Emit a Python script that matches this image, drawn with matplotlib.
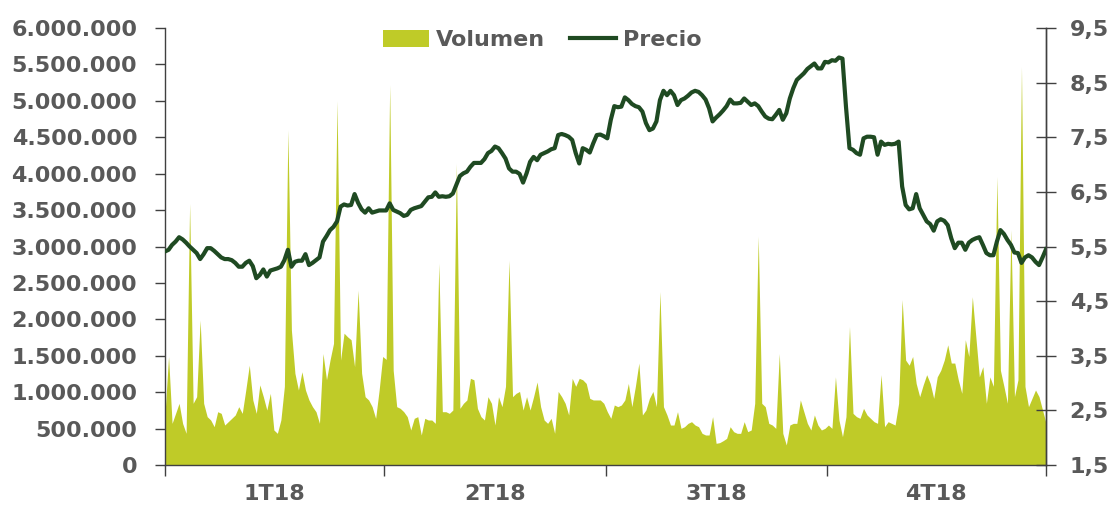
import matplotlib
matplotlib.use("Agg")
import matplotlib.pyplot as plt
import matplotlib.ticker as mticker
from matplotlib.patches import Patch
from matplotlib.lines import Line2D
import numpy as np

# volumen diario (miles de acciones), 2018, una sesion por valor
volumen_q1 = [709, 1490, 572, 709, 847, 572, 435, 3590, 847, 938, 1990, 847, 664, 618, 526, 732,
              709, 549, 595, 641, 687, 801, 709, 1030, 1370, 893, 709, 1100, 938, 755, 984, 481,
              435, 618, 1080, 4600, 1850, 1260, 1030, 1280, 1030, 893, 801, 732, 572, 1530, 1170,
              1440, 1670, 5000, 1440, 1810, 1760, 1720, 1350, 2400, 1260, 938, 893, 801, 641, 1030, 1490]
volumen_q2 = [1450, 5220, 1300, 801, 778, 732, 664, 481, 641, 664, 412, 641, 618, 618, 572, 2770,
              732, 732, 709, 755, 4140, 778, 847, 893, 1190, 1170, 778, 664, 618, 938, 847, 549,
              938, 801, 1080, 2810, 938, 984, 1010, 755, 938, 755, 938, 1140, 801, 618, 572, 641,
              435, 1010, 938, 847, 687, 1190, 1080, 1190, 1170, 1120, 915, 893, 893, 893, 847]
volumen_q3 = [732, 641, 824, 801, 824, 893, 1120, 801, 1080, 1400, 687, 755, 915, 1010, 801, 2380,
              801, 687, 549, 549, 732, 503, 526, 572, 595, 549, 526, 435, 412, 412, 664, 298,
              307, 334, 366, 526, 458, 435, 435, 595, 458, 481, 847, 3140, 847, 801, 572, 549,
              503, 1530, 435, 275, 549, 572, 572, 893, 732, 572, 481, 687, 549, 481, 503]
volumen_q4 = [549, 503, 1210, 618, 389, 664, 1900, 709, 664, 641, 778, 687, 641, 595, 572, 1240,
              526, 595, 572, 549, 847, 2270, 1440, 1370, 1490, 1120, 938, 1100, 1240, 1120, 915, 1210,
              1300, 1440, 1650, 1400, 1400, 1170, 984, 1720, 1490, 2310, 1760, 1210, 1350, 847, 1210, 1080,
              3960, 1300, 1080, 847, 3230, 938, 1170, 5470, 1080, 801, 915, 1030, 938, 755, 572]

# precio de cierre (euros)
precio_q1 = [5.41, 5.44, 5.53, 5.59, 5.67, 5.63, 5.57, 5.50, 5.44, 5.38, 5.27, 5.36, 5.47, 5.47, 5.42, 5.36,
             5.30, 5.27, 5.27, 5.25, 5.20, 5.13, 5.13, 5.20, 5.24, 5.14, 4.92, 4.98, 5.08, 4.95, 5.06, 5.08,
             5.10, 5.13, 5.25, 5.44, 5.13, 5.22, 5.24, 5.24, 5.36, 5.16, 5.20, 5.25, 5.30, 5.59, 5.69,
             5.80, 5.86, 5.96, 6.23, 6.27, 6.25, 6.26, 6.46, 6.30, 6.18, 6.12, 6.20, 6.12, 6.14, 6.16, 6.16]
precio_q2 = [6.16, 6.29, 6.17, 6.14, 6.11, 6.06, 6.08, 6.17, 6.20, 6.22, 6.24, 6.32, 6.40, 6.41, 6.49, 6.41,
             6.42, 6.41, 6.42, 6.47, 6.63, 6.79, 6.84, 6.87, 6.96, 7.03, 7.03, 7.03, 7.10, 7.21, 7.25, 7.33,
             7.30, 7.21, 7.11, 6.93, 6.87, 6.87, 6.83, 6.67, 6.84, 7.05, 7.14, 7.08, 7.18, 7.21, 7.24, 7.28,
             7.30, 7.54, 7.56, 7.54, 7.51, 7.45, 7.21, 7.02, 7.30, 7.27, 7.22, 7.39, 7.54, 7.55, 7.52]
precio_q3 = [7.48, 7.82, 8.07, 8.05, 8.06, 8.23, 8.18, 8.11, 8.07, 8.05, 7.97, 7.76, 7.63, 7.66, 7.79, 8.18,
             8.35, 8.27, 8.35, 8.27, 8.09, 8.18, 8.21, 8.26, 8.32, 8.35, 8.33, 8.27, 8.19, 8.03, 7.79, 7.86,
             7.92, 7.99, 8.07, 8.19, 8.12, 8.12, 8.13, 8.21, 8.15, 8.09, 8.12, 8.07, 7.97, 7.88, 7.84, 7.83,
             7.91, 8.00, 7.82, 7.94, 8.21, 8.40, 8.55, 8.61, 8.67, 8.75, 8.80, 8.85, 8.76, 8.76, 8.88]
precio_q4 = [8.87, 8.91, 8.90, 8.96, 8.94, 8.06, 7.30, 7.27, 7.21, 7.18, 7.48, 7.51, 7.51, 7.50, 7.18, 7.42,
             7.36, 7.38, 7.37, 7.38, 7.42, 6.60, 6.26, 6.18, 6.20, 6.46, 6.20, 6.08, 5.96, 5.91, 5.79, 5.96,
             6.00, 5.97, 5.89, 5.65, 5.47, 5.57, 5.57, 5.44, 5.57, 5.62, 5.65, 5.67, 5.53, 5.38, 5.34, 5.34,
             5.59, 5.80, 5.73, 5.62, 5.53, 5.39, 5.38, 5.20, 5.30, 5.34, 5.30, 5.22, 5.16, 5.30, 5.45]

trimestres = ["1T18", "2T18", "3T18", "4T18"]

volumen = np.array(volumen_q1 + volumen_q2 + volumen_q3 + volumen_q4) * 1000
precio = np.array(precio_q1 + precio_q2 + precio_q3 + precio_q4)
sesiones = np.arange(len(volumen))
n_q = [len(volumen_q1), len(volumen_q2), len(volumen_q3), len(volumen_q4)]

verde_claro = "#BFCB28"
verde_osc = "#1F4A22"
gris = "#595959"

plt.rcParams['font.family'] = ['DejaVu Sans']
plt.rcParams['font.weight'] = 'bold'

fig = plt.figure(figsize=(11.19, 5.09), dpi=100)
ax = fig.add_axes([0.1475, 0.0864, 0.7873, 0.8586])
ax2 = ax.twinx()

ax.fill_between(sesiones, volumen, 0, color=verde_claro, lw=0)
ax2.plot(sesiones, precio, color=verde_osc, lw=3.0, solid_joinstyle='round')

ax.set_xlim(0, len(volumen) - 1)
ax.set_ylim(0, 6000000)
ax2.set_ylim(1.5, 9.5)

ax.yaxis.set_major_locator(mticker.MultipleLocator(500000))
ax.yaxis.set_major_formatter(mticker.FuncFormatter(lambda v, p: "{:,.0f}".format(v).replace(",", ".")))
ax2.set_yticks(np.arange(1.5, 9.6, 1.0))
ax2.yaxis.set_major_formatter(mticker.FuncFormatter(lambda v, p: "{:.1f}".format(v).replace(".", ",")))

# limites de trimestre y etiquetas centradas
bordes = np.concatenate([[0], np.cumsum(n_q) - 0.5])
bordes[-1] = len(volumen) - 1
centros = (bordes[:-1] + bordes[1:]) / 2
ax.set_xticks(bordes)
ax.set_xticklabels([])
ax.set_xticks(centros, minor=True)
ax.set_xticklabels(trimestres, minor=True)
ax.tick_params(axis='x', which='major', direction='out', length=8, width=1, color='#404040')
ax.tick_params(axis='x', which='minor', length=0, pad=14, labelsize=16, labelcolor=gris)

ax.tick_params(axis='y', direction='out', length=7, width=1, color='#404040', pad=13,
               labelsize=16, labelcolor=gris)
ax2.tick_params(axis='y', direction='inout', length=14, width=1, color='#404040', pad=10,
                labelsize=16, labelcolor=gris)

for a in (ax, ax2):
    a.spines['top'].set_visible(False)
    for s in ('left', 'right', 'bottom'):
        a.spines[s].set_color('#404040')
        a.spines[s].set_linewidth(1)
ax2.spines['left'].set_visible(False)
ax2.spines['bottom'].set_visible(False)

for lab in ax.get_yticklabels() + ax2.get_yticklabels() + ax.get_xticklabels(minor=True):
    lab.set_fontweight('bold')

handles = [Patch(facecolor=verde_claro, edgecolor='none'), Line2D([0], [0], color=verde_osc, lw=3.0)]
leg = ax2.legend(handles, ["Volumen", "Precio"], loc='center', bbox_to_anchor=(0.428, 0.973),
                 ncol=2, frameon=False, handlelength=2.1, handleheight=0.8,
                 handletextpad=0.3, columnspacing=1.1, prop={'weight': 'bold', 'size': 16})
for t in leg.get_texts():
    t.set_color(gris)

fig.savefig("out.png", dpi=100, facecolor='white')
